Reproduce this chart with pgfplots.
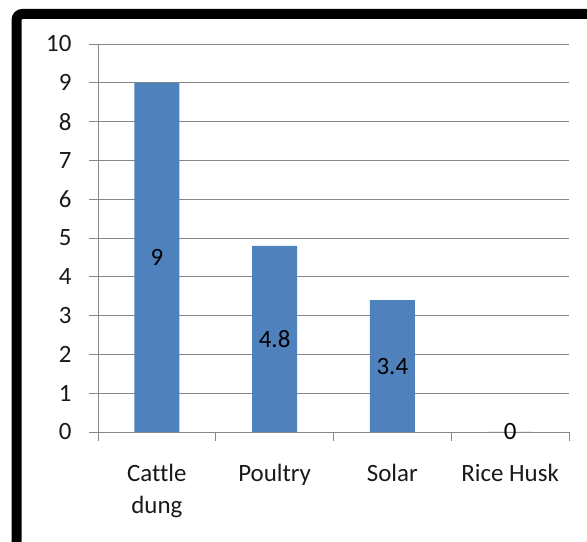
\documentclass[border=0pt]{standalone}
\usepackage{pgfplots}
\pgfplotsset{compat=1.18}
\usepackage{fontspec}
\setmainfont{Carlito}[Ligatures=NoCommon]
\definecolor{barblue}{HTML}{4F81BD}
\definecolor{gridgray}{HTML}{868686}
\begin{document}
\begin{tikzpicture}[x=1bp,y=1bp]
\useasboundingbox (0,0) rectangle (587,542);
\draw[line width=10bp, rounded corners=6bp] (16.5,-20) -- (16.5,528) -- (620,528);
\begin{axis}[
  at={(98bp,110bp)}, anchor=south west,
  scale only axis, width=471bp, height=388bp,
  xmin=-0.5, xmax=3.5, ymin=0, ymax=10,
  ytick={0,...,10},
  xtick={0,1,2,3},
  xticklabels={Cattle\\dung, Poultry, Solar, Rice Husk},
  minor xtick={-0.5,0.5,1.5,2.5,3.5},
  ymajorgrids, grid style={gridgray, line width=0.9bp},
  axis lines=left, axis line style={gridgray, line width=0.9bp, -},
  tick style={gridgray, line width=0.9bp},
  major x tick style={draw=none},
  major tick length=9bp, minor tick length=9bp,
  tick align=outside,
  /pgf/number format/assume math mode=true,
  tick label style={font=\fontsize{25}{32}\selectfont, black!90},
  xticklabel style={align=center, yshift=-20bp},
  yticklabel style={xshift=-14bp},
  clip=false,
]
\addplot[ybar, bar width=45bp, fill=barblue, draw=none,
  visualization depends on=rawy \as \rawy,
  nodes near coords,
  every node near coord/.append style={anchor=center, font=\fontsize{25}{29}\selectfont, black, yshift={-\rawy*19.4bp}}]
  coordinates {(0,9) (1,4.8) (2,3.4) (3,0)};
\end{axis}
\end{tikzpicture}
\end{document}
